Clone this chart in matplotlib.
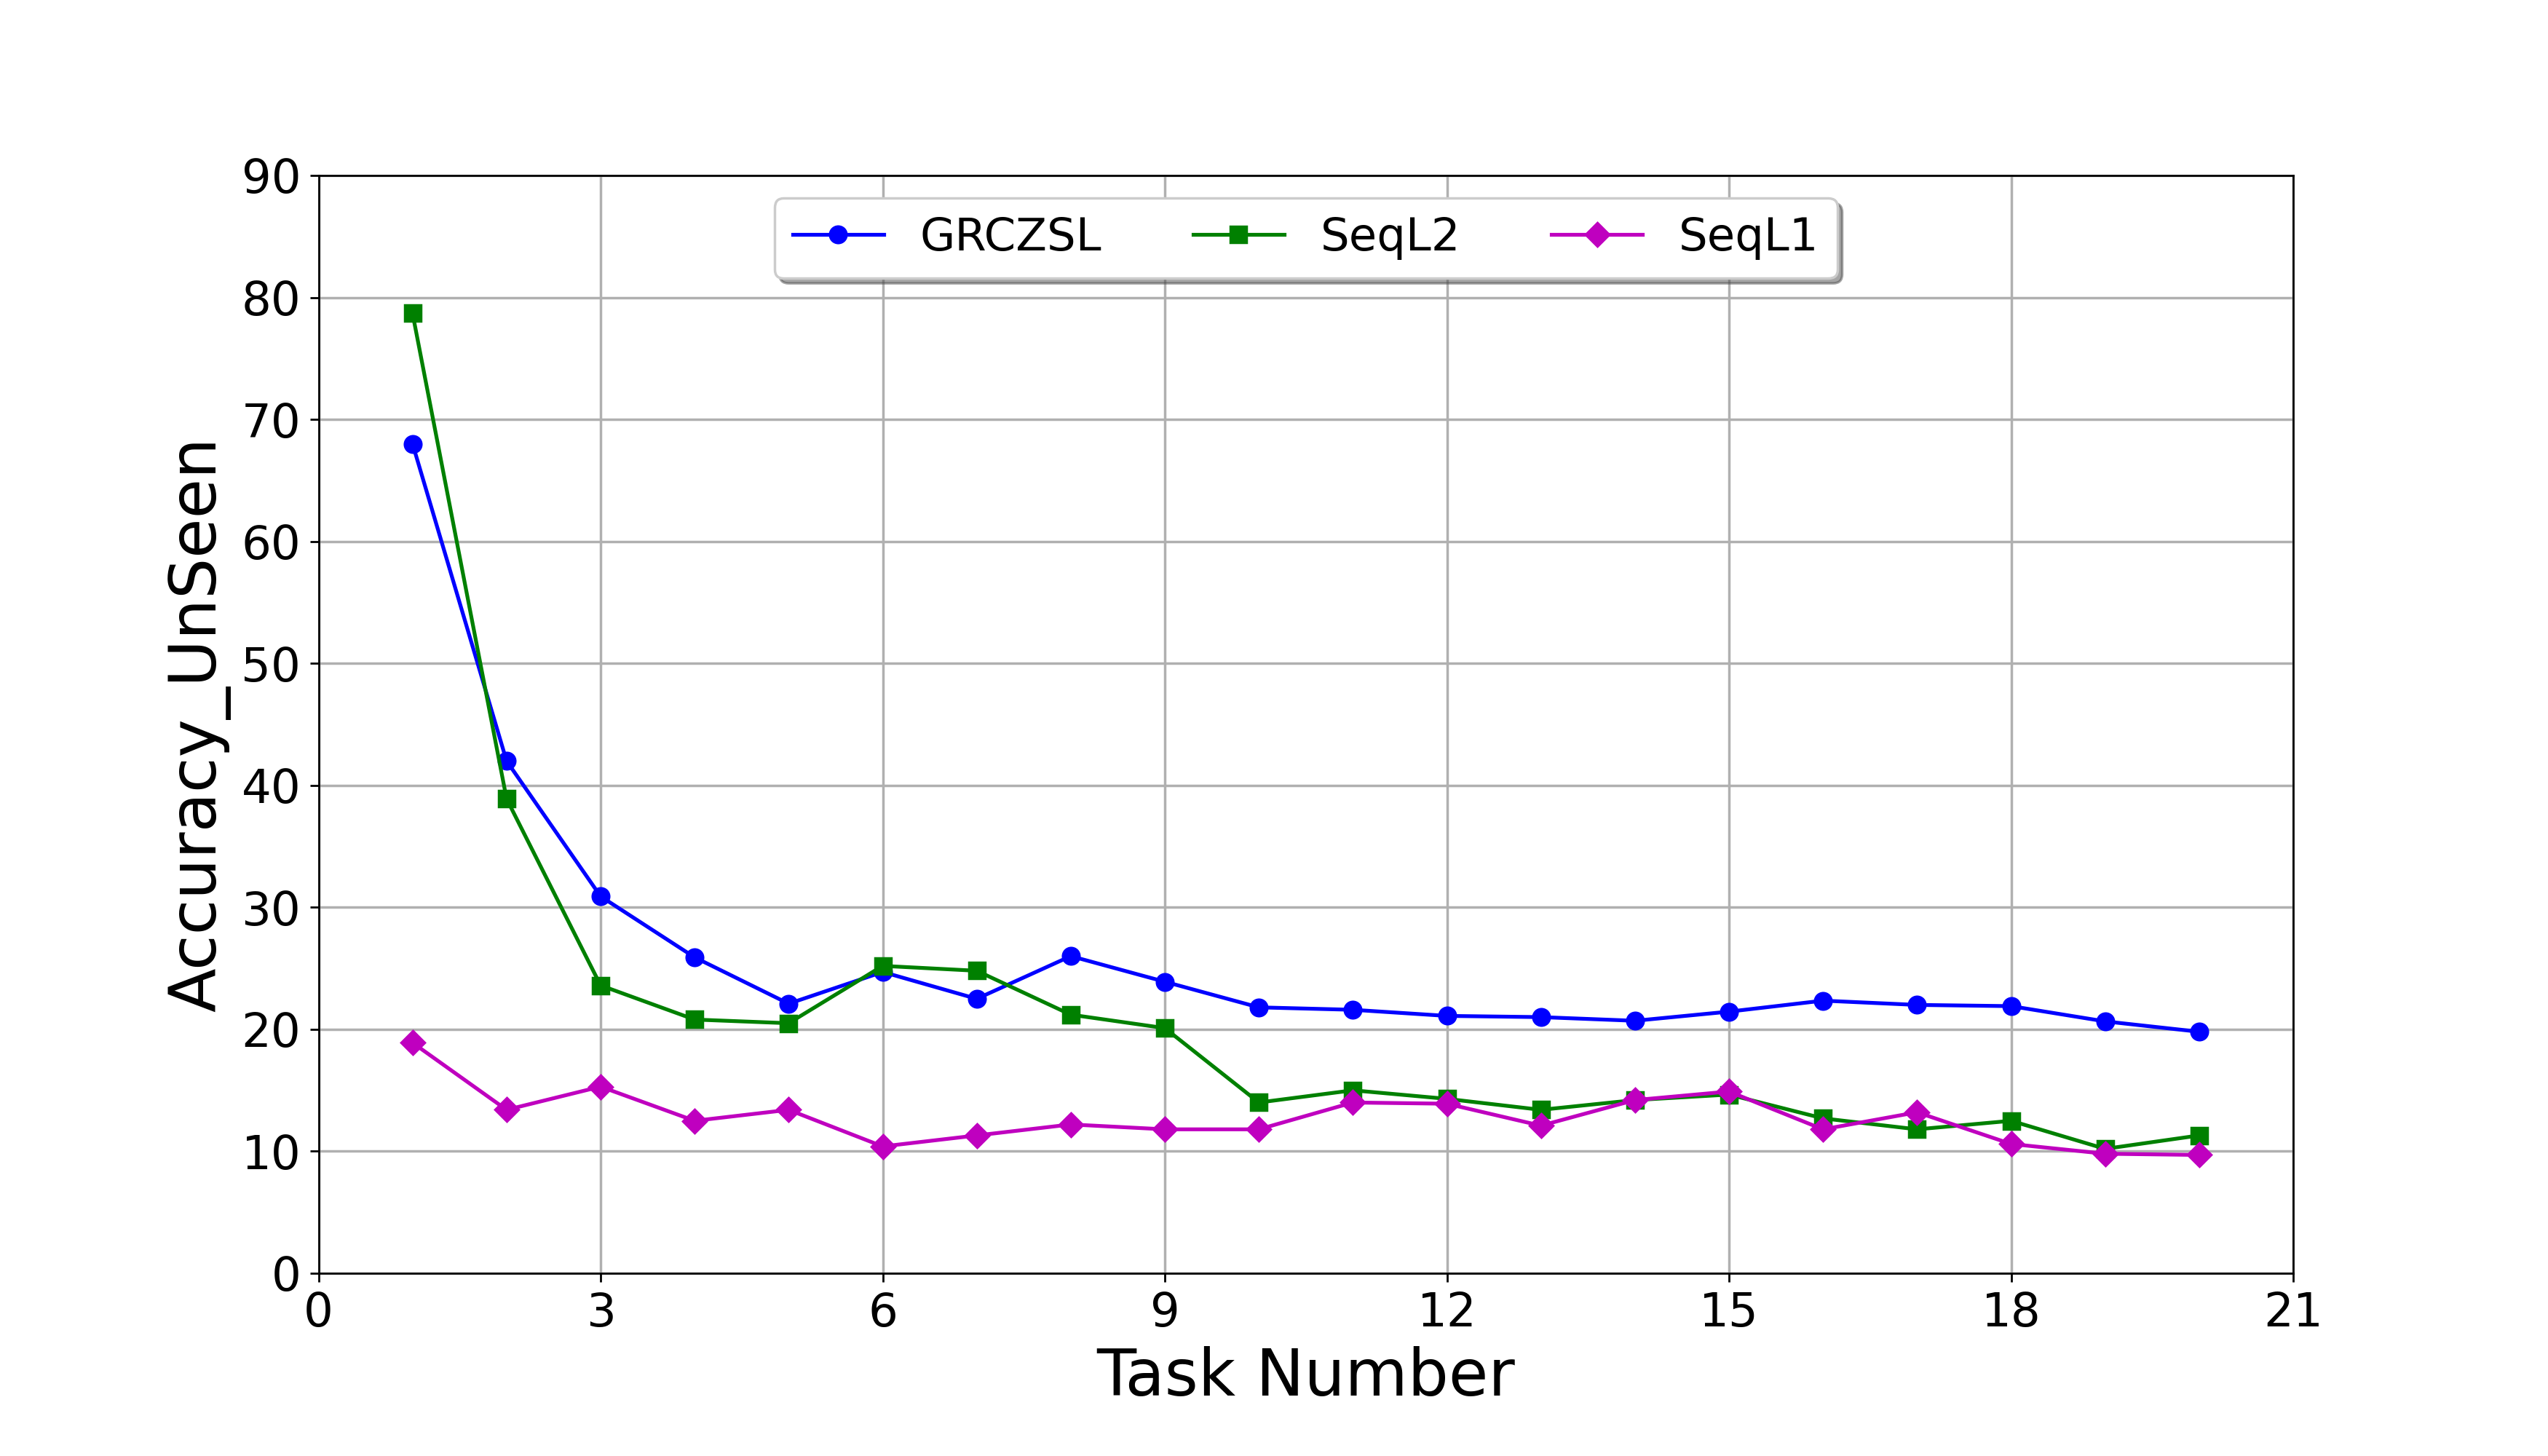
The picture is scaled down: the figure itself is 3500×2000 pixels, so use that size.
import matplotlib
matplotlib.use("Agg")
import matplotlib.pyplot as plt

tasks = list(range(1, 21))
grczsl = [68.0, 42.0, 30.9, 25.9, 22.1, 24.7, 22.5, 26.0, 23.9, 21.8,
          21.6, 21.1, 21.0, 20.7, 21.45, 22.35, 22.0, 21.9, 20.65, 19.8]
seql2 = [78.7, 38.9, 23.6, 20.8, 20.5, 25.2, 24.8, 21.2, 20.1, 14.0,
         15.0, 14.3, 13.4, 14.2, 14.65, 12.7, 11.8, 12.5, 10.2, 11.3]
seql1 = [18.9, 13.4, 15.3, 12.5, 13.4, 10.4, 11.3, 12.2, 11.8, 11.8,
         14.0, 13.9, 12.1, 14.2, 14.9, 11.8, 13.2, 10.6, 9.8, 9.7]

xticks = [0, 3, 6, 9, 12, 15, 18, 21]
yticks = [0, 10, 20, 30, 40, 50, 60, 70, 80, 90]

fig, ax = plt.subplots(figsize=(14, 8), dpi=250)
fig.subplots_adjust(left=0.125, right=0.9, top=0.8795, bottom=0.1255)
ax.plot(tasks, grczsl, color='blue', marker='o', linewidth=1.5, markersize=6.5, label='GRCZSL')
ax.plot(tasks, seql2, color='green', marker='s', linewidth=1.5, markersize=6.5, label='SeqL2')
ax.plot(tasks, seql1, color='m', marker='D', linewidth=1.5, markersize=6.5, label='SeqL1')

ax.set_xlim(0, 21)
ax.set_ylim(0, 90)
ax.set_xticks(xticks)
ax.set_yticks(yticks)
ax.tick_params(labelsize=18.5)
ax.grid(True, color='#b0b0b0', linewidth=1.0)
ax.set_xlabel('Task Number', fontsize=25.5)
ax.set_ylabel('Accuracy_UnSeen', fontsize=25.5)
ax.legend(loc='upper center', ncol=3, fontsize=18, shadow=True, fancybox=True)

fig.savefig('out.png', dpi=250)
